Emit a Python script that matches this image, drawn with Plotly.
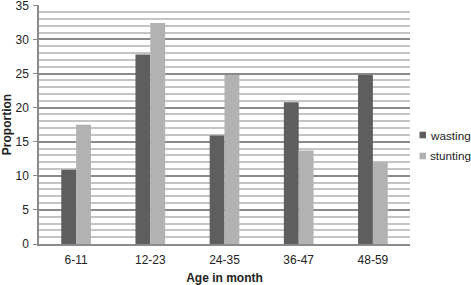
import plotly.graph_objects as go

categories = ["6-11", "12-23", "24-35", "36-47", "48-59"]
wasting = [10.9, 27.8, 15.9, 20.8, 24.8]
stunting = [17.5, 32.4, 24.8, 13.7, 12.0]
y_ticks = [0, 5, 10, 15, 20, 25, 30, 35]
series_names = ["wasting", "stunting"]
series_colors = ["#5e5e5e", "#b2b2b2"]

# plot-area geometry in pixels (used only for the hand-drawn legend)
W, H = 471, 285
L, R, T, B = 39, 61, 5, 41
pw, ph = W - L - R, H - T - B

fig = go.Figure()
fig.add_trace(go.Bar(name=series_names[0], x=categories, y=wasting,
                     marker_color=series_colors[0], marker_line_width=0))
fig.add_trace(go.Bar(name=series_names[1], x=categories, y=stunting,
                     marker_color=series_colors[1], marker_line_width=0))

# legend drawn as text + small squares to match the reference placement
legend_rows = [135, 156]
for name, col, py in zip(series_names, series_colors, legend_rows):
    fig.add_annotation(x=(427.5 - L) / pw, y=(H - B - py) / ph, xref="paper", yref="paper",
                       text=name, showarrow=False, xanchor="left", yanchor="middle",
                       font=dict(size=11.7, color="#222"))
    fig.add_shape(type="rect", xref="paper", yref="paper",
                  x0=(419.5 - L) / pw, x1=(426 - L) / pw,
                  y0=(H - B - (py + 3.3)) / ph, y1=(H - B - (py - 3.3)) / ph,
                  fillcolor=col, line_width=0)

font = "Liberation Sans, Arial, sans-serif"
fig.update_layout(
    width=W, height=H,
    margin=dict(l=L, r=R, t=T, b=B, autoexpand=False),
    paper_bgcolor="white", plot_bgcolor="white",
    barmode="group", bargap=0.6, bargroupgap=0,
    font=dict(family=font, size=12, color="#222"),
    showlegend=False,
    xaxis=dict(showline=True, linecolor="#8a8a8a", linewidth=1.5, automargin=False,
               title=dict(text="<b>Age in month</b>", font=dict(size=12), standoff=7),
               tickfont=dict(size=12), ticks="", ticklabelstandoff=4),
    yaxis=dict(range=[0, 35.05], tickvals=y_ticks, showline=True, linecolor="#8a8a8a",
               linewidth=1.5, gridcolor="#8a8a8a", gridwidth=1.5, automargin=False,
               ticks="outside", ticklen=4, tickcolor="#8a8a8a",
               ticklabeloverflow="allow", ticklabelstandoff=2,
               minor=dict(dtick=1, showgrid=True, gridcolor="#c4c4c4", gridwidth=1.5),
               title=dict(text="<b>Proportion</b>", font=dict(size=12), standoff=6),
               tickfont=dict(size=12), zeroline=False),
)
fig.write_html("out.html", config={"displayModeBar": False},
               post_script="document.body.style.margin='0';document.body.style.overflow='hidden';")
